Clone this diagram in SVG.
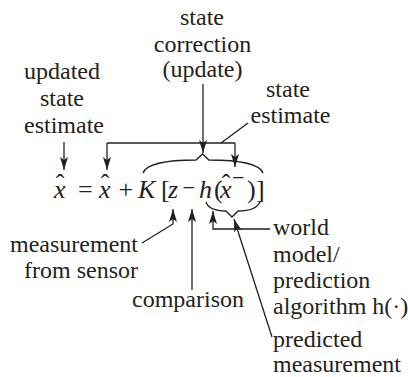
<svg xmlns="http://www.w3.org/2000/svg" width="408" height="377" viewBox="0 0 408 377">
<defs>
<style>
.lbl{font-family:"Liberation Serif","Times New Roman",serif;font-size:24px;fill:#231f20}
.c{text-anchor:middle}
.e{font-family:"Liberation Serif","Times New Roman",serif;font-size:26px;fill:#231f20}
.i{font-style:italic}
.ln{fill:none;stroke:#231f20;stroke-width:1.3}
</style>
<marker id="ah" markerUnits="userSpaceOnUse" markerWidth="14" markerHeight="10" refX="13" refY="5" orient="auto">
<path d="M0,1 L13,5 L0,9 L3,5 Z" fill="#231f20"/>
</marker>
</defs>
<rect width="408" height="377" fill="#fff"/>

<g id="correction">
<text class="lbl c" x="202" y="25">state</text>
<text class="lbl c" x="202.5" y="51.5">correction</text>
<text class="lbl c" x="202.5" y="77">(update)</text>
</g>
<g id="updated">
<text class="lbl c" x="62" y="79">updated</text>
<text class="lbl c" x="62" y="106">state</text>
<text class="lbl c" x="64" y="133">estimate</text>
</g>
<g id="estimate">
<text class="lbl c" x="288" y="97">state</text>
<text class="lbl c" x="290.5" y="123">estimate</text>
</g>
<g id="sensor">
<text class="lbl" x="138" y="252" text-anchor="end">measurement</text>
<text class="lbl" x="138" y="278" text-anchor="end">from sensor</text>
</g>
<g id="comparison">
<text class="lbl c" x="188" y="307">comparison</text>
</g>
<g id="world">
<text class="lbl" x="273" y="235">world</text>
<text class="lbl" x="273" y="261.5">model/</text>
<text class="lbl" x="273" y="288">prediction</text>
<text class="lbl" x="273" y="314">algorithm h(·)</text>
</g>
<g id="predicted">
<text class="lbl" x="273" y="347">predicted</text>
<text class="lbl" x="273" y="371.5">measurement</text>
</g>

<g id="equation">
<text class="e" x="54" y="198"><tspan class="i">x</tspan><tspan x="60" y="192" text-anchor="middle">ˆ</tspan></text>
<text class="e" x="78" y="198">=</text>
<text class="e" x="99" y="198"><tspan class="i">x</tspan><tspan x="105" y="192" text-anchor="middle">ˆ</tspan></text>
<text class="e" x="118.5" y="198">+</text>
<text class="e i" x="138" y="198">K</text>
<text class="e" x="161" y="198">[</text>
<text class="e i" x="168" y="198">z</text>
<text class="e" x="182.5" y="195" style="font-size:22px">−</text>
<text class="e i" x="199" y="198">h</text>
<text class="e" x="214" y="198">(</text>
<text class="e" x="220" y="198"><tspan class="i">x</tspan><tspan x="226" y="192" text-anchor="middle">ˆ</tspan><tspan x="232" y="185" style="font-size:22px">−</tspan></text>
<text class="e" x="247" y="198">)</text>
<text class="e" x="256" y="198">]</text>
</g>

<g id="connectors">
<path class="ln" d="M143,173 Q148,160 196,160 L202.5,154 L209,160 Q258,160 263,173"/>
<path class="ln" d="M206,202 Q209,211 226,211 L232,217 L238,211 Q256,211 260,202"/>
<path class="ln" d="M64,142 L64,170" marker-end="url(#ah)"/>
<path class="ln" d="M203,84 L203,153" marker-end="url(#ah)"/>
<path class="ln" d="M107,143 L235,143"/>
<path class="ln" d="M107,143 L107,170" marker-end="url(#ah)"/>
<path class="ln" d="M235,143 L235,167" marker-end="url(#ah)"/>
<path class="ln" d="M248,123 L221,143"/>
<path class="ln" d="M142,243 L173,224 L173,209" marker-end="url(#ah)"/>
<path class="ln" d="M192,290 L192,209" marker-end="url(#ah)"/>
<path class="ln" d="M270,229 L213,229 L213,211" marker-end="url(#ah)"/>
<path class="ln" d="M272,337 L234,219" marker-end="url(#ah)"/>
</g>
</svg>
